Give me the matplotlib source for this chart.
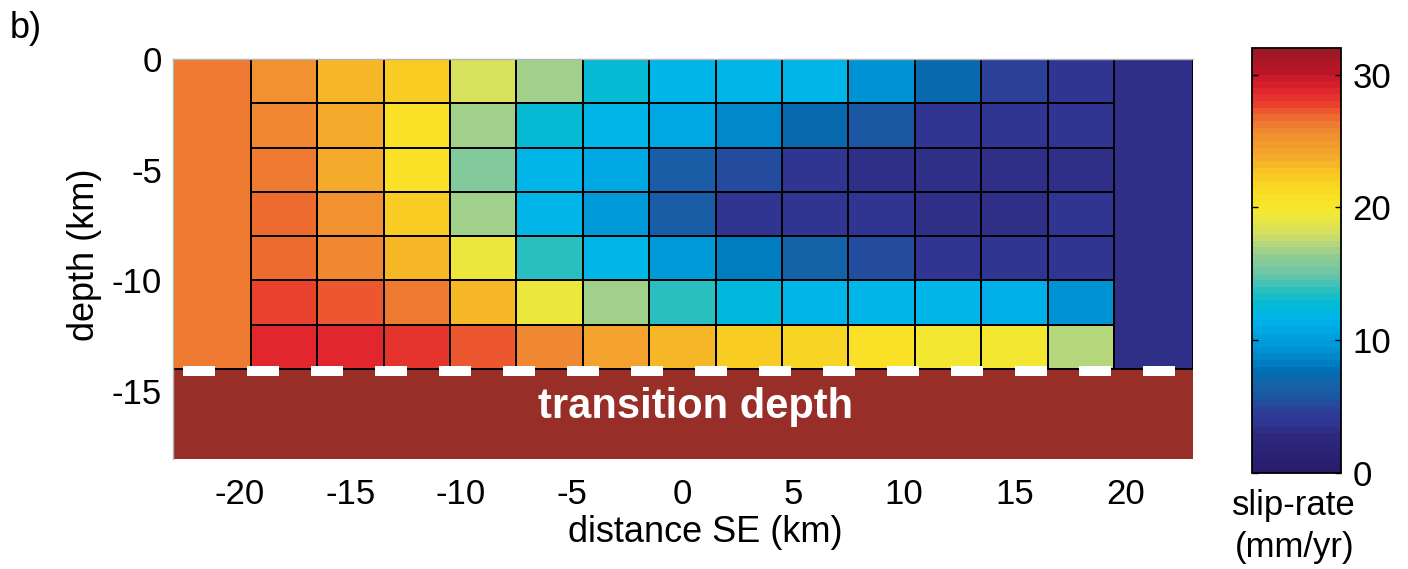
import numpy as np
import matplotlib
matplotlib.use("Agg")
import matplotlib.pyplot as plt
from matplotlib.colors import LinearSegmentedColormap, Normalize

plt.rcParams['font.family'] = ['Liberation Sans', 'DejaVu Sans']
plt.rcParams['axes.unicode_minus'] = False

# -------------------------
# Data (slip-rate, mm/yr)
# -------------------------
x_edges = np.arange(-19.5, 19.6, 3.0)      # 13 patches along strike
y_edges = np.arange(0.0, -14.1, -2.0)       # 7 patches down dip

slip = np.array([
    [25.0, 23.0, 22.3, 18.2, 16.5, 12.8, 11.5, 11.5, 11.5, 9.3, 7.3, 4.6, 3.8],
    [25.7, 23.5, 20.5, 16.5, 12.8, 11.5, 10.5, 8.8, 7.3, 5.6, 3.5, 3.5, 3.5],
    [26.0, 23.8, 20.5, 15.5, 11.5, 10.5, 6.0, 5.2, 3.7, 3.4, 3.4, 3.4, 3.4],
    [26.5, 25.0, 22.0, 16.5, 11.5, 9.6, 6.0, 3.8, 3.6, 3.5, 3.4, 3.4, 3.7],
    [26.8, 25.9, 23.4, 19.2, 13.5, 11.5, 9.6, 8.0, 6.8, 5.2, 3.8, 3.5, 3.6],
    [27.8, 27.1, 26.0, 23.0, 19.2, 16.5, 13.5, 12.0, 11.5, 11.5, 11.5, 11.2, 9.0],
    [28.6, 28.8, 28.4, 27.1, 25.7, 24.0, 23.0, 22.3, 21.7, 20.5, 19.8, 19.5, 17.0],
])

# far-field blocks on either side
left_edges = [-23.0, -19.5]
left_slip = 26.0
right_edges = [19.5, 23.05]
right_slip = 3.4

transition_top = -14.0
transition_bottom = -18.07

# -------------------------
# Colormap
# -------------------------
anchors = [
    (0.0, (42, 28, 108)), (2.5, (45, 40, 125)), (3.5, (48, 52, 145)),
    (4.5, (45, 62, 152)), (5.5, (28, 85, 162)), (6.5, (22, 98, 168)),
    (7.5, (0, 110, 180)), (9.0, (0, 145, 210)), (10.5, (0, 165, 225)),
    (11.5, (0, 180, 235)), (12.5, (0, 185, 215)), (13.5, (30, 190, 195)),
    (15.0, (110, 198, 165)), (16.5, (150, 205, 145)), (18.0, (210, 223, 100)),
    (19.5, (240, 232, 55)), (20.5, (250, 228, 40)), (22.0, (248, 210, 35)),
    (23.0, (248, 192, 35)), (24.0, (243, 168, 45)), (25.0, (243, 152, 45)),
    (26.0, (240, 134, 50)), (27.0, (238, 105, 48)), (28.0, (233, 62, 45)),
    (29.0, (225, 38, 45)), (30.5, (185, 20, 40)), (32.0, (155, 25, 35)),
]
vmax = 32.0
cmap = LinearSegmentedColormap.from_list(
    "sliprate",
    [(v / vmax, tuple(c / 255 for c in rgb)) for v, rgb in anchors],
    N=64)
norm = Normalize(vmin=0, vmax=vmax)

# -------------------------
# Plot
# -------------------------
fig = plt.figure(figsize=(14.08, 5.69), dpi=100)
ax = fig.add_axes([0.1231, 0.1938, 0.724, 0.702])

ax.axhspan(transition_bottom, transition_top, color="#982e28", lw=0, zorder=1)

mesh = ax.pcolormesh(x_edges, y_edges, slip, cmap=cmap, norm=norm,
                     edgecolors="k", linewidth=1.1, zorder=2)
ax.pcolormesh(left_edges, [0.0, transition_top], [[left_slip]], cmap=cmap,
              norm=norm, edgecolors="k", linewidth=1.1, zorder=2)
ax.pcolormesh(right_edges, [0.0, transition_top], [[right_slip]], cmap=cmap,
              norm=norm, edgecolors="k", linewidth=1.1, zorder=2)

# dashed transition depth line
ax.plot([-22.56, 23.05], [transition_top - 0.12] * 2, color="white",
        linewidth=7.2, dashes=(3.2, 3.2), solid_capstyle="butt",
        dash_capstyle="butt", zorder=4)

ax.text(0.6, -15.75, "transition depth", color="white", fontsize=30,
        fontweight="bold", ha="center", va="center", zorder=5)

ax.set_xlim(-23.0, 23.05)
ax.set_ylim(transition_bottom, 0)
ax.set_xticks([-20, -15, -10, -5, 0, 5, 10, 15, 20])
ax.set_yticks([0, -5, -10, -15])
ax.tick_params(length=0, labelsize=25)
ax.tick_params(axis="x", pad=14)
ax.tick_params(axis="y", pad=8)
for side in ["right", "bottom"]:
    ax.spines[side].set_visible(False)
for side in ["left", "top"]:
    ax.spines[side].set_color("#b4b4b4")
    ax.spines[side].set_linewidth(1.0)

ax.set_xlabel("distance SE (km)", fontsize=26, va="center")
ax.xaxis.set_label_coords(0.522, -0.185)
ax.set_ylabel("depth (km)", fontsize=26, va="center")
ax.yaxis.set_label_coords(-0.087, 0.51)

# -------------------------
# Colorbar
# -------------------------
cax = fig.add_axes([0.8892, 0.1687, 0.0633, 0.747])
cb = fig.colorbar(mesh, cax=cax)
cb.set_ticks([0, 10, 20, 30])
cb.outline.set_linewidth(1.3)
cax.yaxis.set_ticks_position("both")
cax.yaxis.set_label_position("right")
cax.tick_params(direction="in", length=4, width=1, labelsize=25,
                labelleft=False, labelright=True, pad=8)

fig.text(1294 / 1408, 1 - 505 / 569, "slip-rate", fontsize=25,
         ha="center", va="center")
fig.text(1295 / 1408, 1 - 548 / 569, "(mm/yr)", fontsize=25,
         ha="center", va="center")
fig.text(10 / 1408, 1 - 28 / 569, "b)", fontsize=26, ha="left", va="center")

fig.savefig("out.png", dpi=100)
